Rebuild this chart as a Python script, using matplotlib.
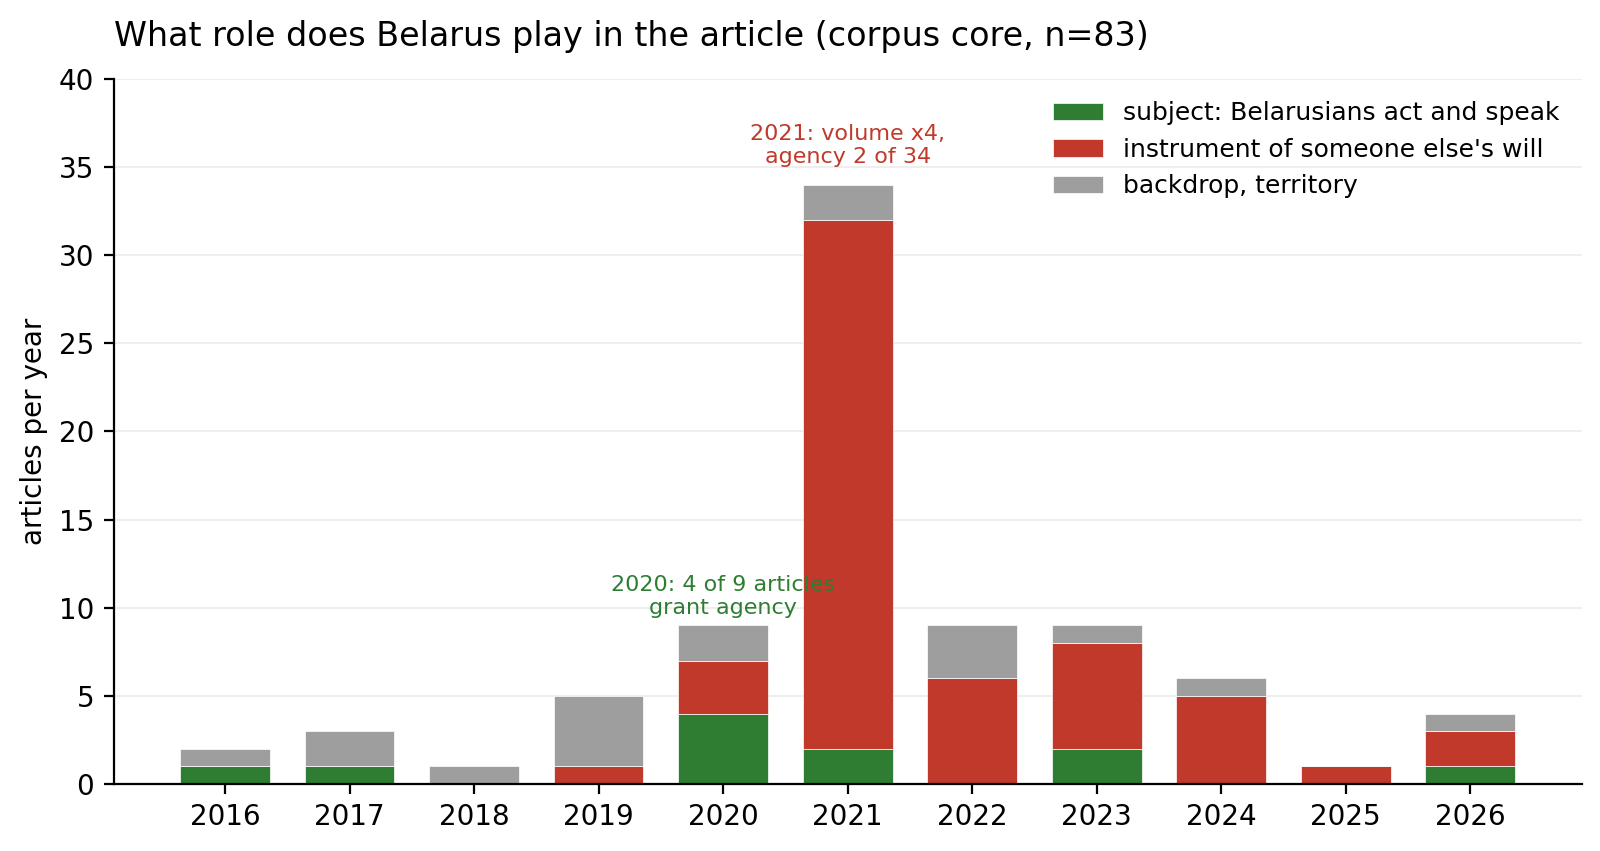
import matplotlib
matplotlib.use("Agg")
import matplotlib.pyplot as plt
import numpy as np

# articles per year, split by the role Belarus plays
years = ["2016", "2017", "2018", "2019", "2020", "2021",
         "2022", "2023", "2024", "2025", "2026"]
subject = [1, 1, 0, 0, 4, 2, 0, 2, 0, 0, 1]
instrument = [0, 0, 0, 1, 3, 30, 6, 6, 5, 1, 2]
backdrop = [1, 2, 1, 4, 2, 2, 3, 1, 1, 0, 1]

labels = ["subject: Belarusians act and speak",
          "instrument of someone else's will",
          "backdrop, territory"]
colors = ["#2e7d32", "#c0392b", "#9e9e9e"]

fig, ax = plt.subplots(figsize=(8, 4.255), dpi=200)
fig.subplots_adjust(left=0.071, right=0.9886, bottom=0.0787, top=0.9072)

x = np.arange(len(years))
bottom = np.zeros(len(years))
for vals, lab, col in zip([subject, instrument, backdrop], labels, colors):
    ax.bar(x, vals, 0.72, bottom=bottom, color=col, label=lab,
           edgecolor="white", linewidth=0.25)
    bottom += np.array(vals)

ax.set_xticks(x)
ax.set_xticklabels(years)
ax.set_ylim(0, 40)
ax.set_ylabel("articles per year")
ax.set_title("What role does Belarus play in the article (corpus core, n=83)",
             loc="left", fontsize=12, pad=12)

ax.yaxis.grid(True, color="#ebebeb", linewidth=0.6)
ax.set_axisbelow(True)
ax.spines["top"].set_visible(False)
ax.spines["right"].set_visible(False)

# notes over 2020 and 2021
ax.text(4, bottom[4] + 0.4, "2020: 4 of 9 articles\ngrant agency",
        ha="center", va="bottom", fontsize=8, color="#2e7d32")
ax.text(5, bottom[5] + 1, "2021: volume x4,\nagency 2 of 34",
        ha="center", va="bottom", fontsize=8, color="#c0392b")

ax.legend(loc="upper right", frameon=False, fontsize=9)

fig.savefig("out.png", dpi=200)
